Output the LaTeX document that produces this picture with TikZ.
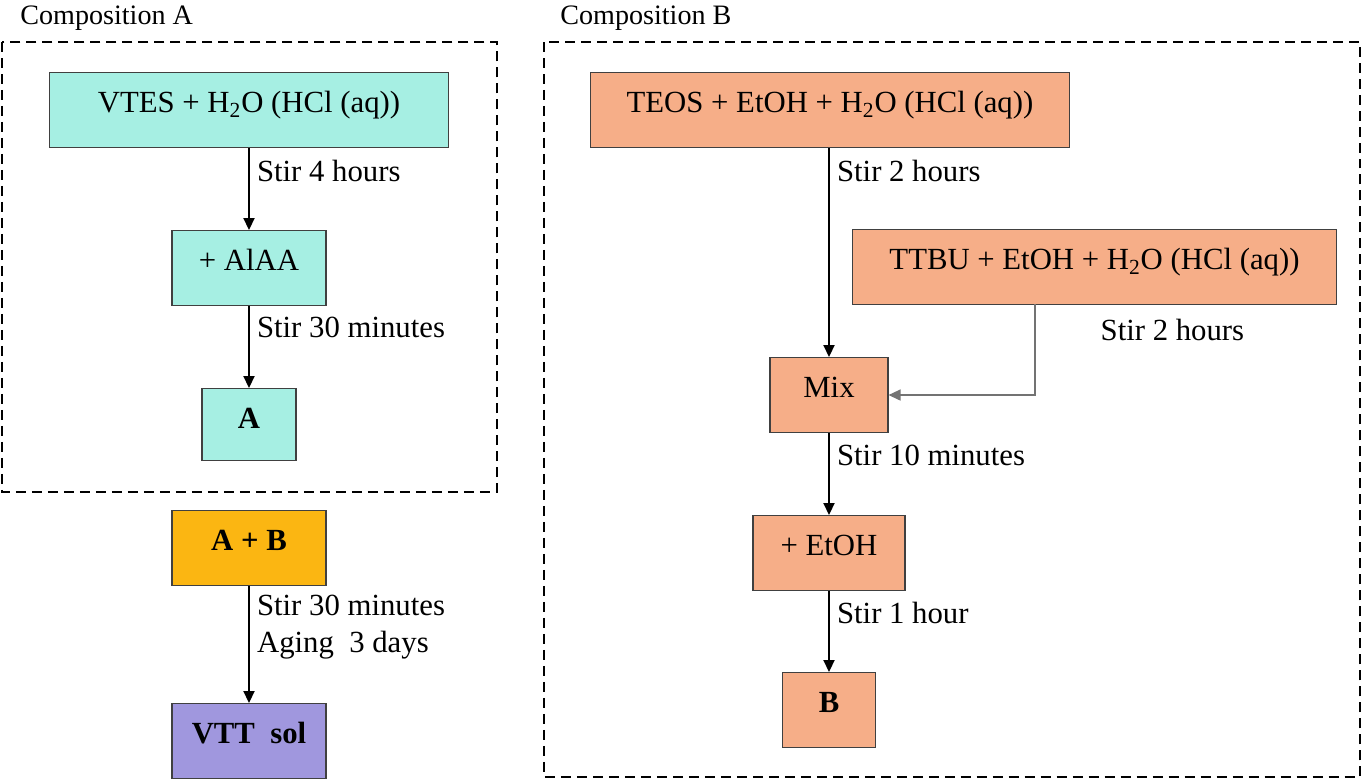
\documentclass[tikz,border=0pt]{standalone}
\usepackage{fontspec}
\setmainfont{Liberation Serif}
\usepackage{tikz}
\usetikzlibrary{calc}
\usetikzlibrary{arrows.meta,positioning}
\definecolor{compA}{RGB}{166,239,227}
\definecolor{compB}{RGB}{246,174,136}
\definecolor{mixAB}{RGB}{251,182,18}
\definecolor{solc}{RGB}{160,151,222}
\newcommand{\water}{H\textsubscript{2}O}

\begin{document}
\begin{tikzpicture}[x=0.02cm,y=-0.02cm,
    stage/.style={draw=black!75,line width=0.6pt,anchor=north,inner sep=0pt,
      text height=0.8cm,text depth=0.7cm,font=\fontsize{17.5}{21}\selectfont},
    flow/.style={-{Triangle[length=0.24cm,width=0.22cm]},line width=1.2pt},
    lbl/.style={anchor=west,inner sep=0pt,xshift=0.14cm,align=left,
      font=\fontsize{17.5}{21}\selectfont},
    group/.style={dash pattern=on 0.2cm off 0.12cm,line width=1.1pt},
    title/.style={anchor=west,inner sep=0pt,font=\fontsize{16}{19}\selectfont}]
      \useasboundingbox (0,0) rectangle (1363,779);
      % Composition A
      \node[title] (titleA) at (20,18) {Composition A};
      \draw[group] (2,42) rectangle (497,492);
      \node[stage,fill=compA,minimum width=7.98cm] (vtes) at (249,72) {VTES + \water{} (HCl (aq))};
      \node[stage,fill=compA,minimum width=3.08cm] (alaa) at (249,230) {+ AlAA};
      \node[stage,fill=compA,minimum width=1.88cm,text depth=0.64cm] (A) at (249,388) {\textbf{A}};
      \draw[flow] (vtes.south -| alaa) -- node[lbl,pos=.28] {Stir 4 hours} (alaa);
      \draw[flow] (alaa) -- node[lbl,pos=.265] {Stir 30 minutes} (A);
      % A + B
      \node[stage,fill=mixAB,minimum width=3.08cm] (AB) at (249,510) {\textbf{A + B}};
      \node[stage,fill=solc,minimum width=3.08cm] (vtt) at (249,703) {\textbf{VTT~ sol}};
      \draw[flow] (AB) -- node[lbl,pos=.35] {Stir 30 minutes\\Aging~ 3 days} (vtt);
      % Composition B
      \node[title] (titleB) at (560,18) {Composition B};
      \draw[group] (544,42) rectangle (1360,777);
      \node[stage,fill=compB,minimum width=9.6cm] (teos) at (830,72) {TEOS + EtOH + \water{} (HCl (aq))};
      \node[stage,fill=compB,minimum width=9.7cm] (ttbu) at (1094.5,229) {TTBU + EtOH + \water{} (HCl (aq))};
      \node[stage,fill=compB,minimum width=2.36cm] (mix) at (829,357) {Mix};
      \node[stage,fill=compB,minimum width=3.04cm] (etoh) at (829,515) {+ EtOH};
      \node[stage,fill=compB,minimum width=1.86cm] (B) at (829,672) {\textbf{B}};
      \coordinate (tap) at (1035,304);
      \draw[flow] (teos.south -| mix) -- node[lbl,pos=.11] {Stir 2 hours} (mix);
      \draw[flow,draw=black!55,line width=0.8pt] (tap) |- node[lbl,pos=.14,xshift=1.16cm] {Stir 2 hours} (mix.east);
      \draw[flow] (mix) -- node[lbl,pos=.27] {Stir 10 minutes} (etoh);
      \draw[flow] (etoh) -- node[lbl,pos=.27] {Stir 1 hour} (B);
\end{tikzpicture}
\end{document}
